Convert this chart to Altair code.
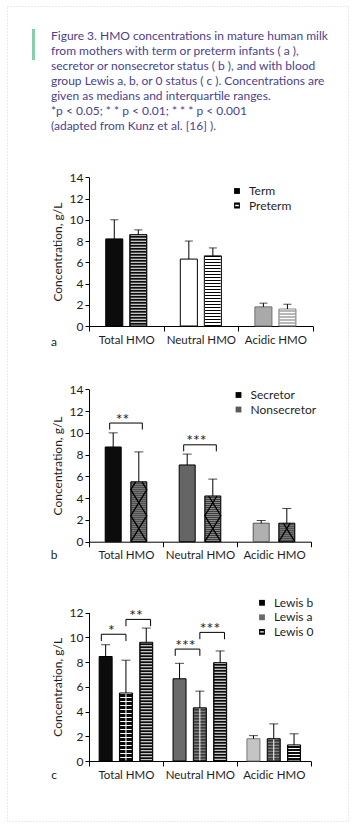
import altair as alt
import pandas as pd

FONT = "Lato"
INK = "#1e1e1e"
CAPTION_COLOR = "#4a4290"
W, H = 356, 835
LEFT = 89          # x of the plot areas' left edge
CAP_H = 170        # height of the caption block

# ---------------- text / data ----------------
caption_lines = [
    "Figure 3. HMO concentrations in mature human milk",
    "from mothers with term or preterm infants ( a ),",
    "secretor or nonsecretor status ( b ), and with blood",
    "group Lewis a, b, or 0 status ( c ). Concentrations are",
    "given as medians and interquartile ranges.",
    "*p < 0.05; * * p < 0.01; * * * p < 0.001",
    "(adapted from Kunz et al. [16] ).",
]
categories = ["Total HMO", "Neutral HMO", "Acidic HMO"]
panel_letters = ["a", "b", "c"]
y_title = "Concentration, g/L"

a_groups = ["Term", "Preterm"]
a_median = {"Term": [8.2, 6.3, 1.8], "Preterm": [8.6, 6.6, 1.6]}
a_q3 = {"Term": [10.0, 8.0, 2.15], "Preterm": [9.05, 7.35, 2.05]}

b_groups = ["Secretor", "Nonsecretor"]
b_median = {"Secretor": [8.7, 7.05, 1.7], "Nonsecretor": [5.5, 4.2, 1.7]}
b_q3 = {"Secretor": [10.0, 8.05, 1.95], "Nonsecretor": [8.25, 5.75, 3.05]}

c_groups = ["Lewis b", "Lewis a", "Lewis 0"]
c_median = {"Lewis b": [8.45, 6.65, 1.8], "Lewis a": [5.5, 4.3, 1.8], "Lewis 0": [9.6, 7.95, 1.3]}
c_q3 = {"Lewis b": [9.4, 7.9, 2.05], "Lewis a": [8.15, 5.65, 3.0], "Lewis 0": [10.75, 8.9, 2.2]}

# significance brackets: category, left group, right group, bracket top, label
a_sig = []
b_sig = [("Total HMO", "Secretor", "Nonsecretor", 10.9, "**"),
         ("Neutral HMO", "Secretor", "Nonsecretor", 8.9, "***")]
c_sig = [("Total HMO", "Lewis b", "Lewis a", 10.25, "*"),
         ("Total HMO", "Lewis a", "Lewis 0", 11.45, "**"),
         ("Neutral HMO", "Lewis b", "Lewis a", 9.05, "***"),
         ("Neutral HMO", "Lewis a", "Lewis 0", 10.4, "***")]

# ---------------- styles ----------------
STRIPED = "M-1,-1H1V1H-1Z M-0.62,-0.22V0.22H0.62V-0.22Z"
a_fill = {"Term": ["#0c0c0c", "#ffffff", "#a9a9a9"], "Preterm": ["#0c0c0c", "#ffffff", "#b8b8b8"]}
a_stroke = {"Term": ["#000000", "#000000", "#707070"], "Preterm": ["#000000", "#000000", "#8a8a8a"]}
a_stripes = {"Preterm": [("#ffffff", (1, 2), 1.0), ("#000000", (1, 2), 1.0), ("#ffffff", (1, 2), 1.0)]}
a_vline = {}
a_cross = []
a_leg_fill = ["#000000", "#000000"]
a_leg_shape = ["square", STRIPED]

b_fill = {"Secretor": ["#0c0c0c", "#656565", "#b0b0b0"], "Nonsecretor": ["#3e3e3e", "#3e3e3e", "#3e3e3e"]}
b_stroke = {"Secretor": ["#000000", "#000000", "#555555"], "Nonsecretor": ["#000000", "#000000", "#000000"]}
b_stripes = {"Nonsecretor": [("#ffffff", (1, 1), 0.38)] * 3}
b_vline = {}
b_cross = ["Nonsecretor"]          # groups drawn with a diagonal lattice
b_leg_fill = ["#000000", "#5a5a5a"]
b_leg_shape = ["square", "square"]

c_fill = {"Lewis b": ["#0c0c0c", "#6a6a6a", "#c4c4c4"], "Lewis a": ["#0c0c0c", "#3a3a3a", "#3a3a3a"],
          "Lewis 0": ["#0c0c0c", "#0c0c0c", "#0c0c0c"]}
c_stroke = {"Lewis b": ["#000000", "#000000", "#777777"], "Lewis a": ["#000000", "#000000", "#000000"],
            "Lewis 0": ["#000000", "#000000", "#000000"]}
c_stripes = {"Lewis a": [("#ffffff", (1, 3), 1.0), ("#ffffff", (1, 2), 0.45), ("#ffffff", (1, 2), 0.45)],
             "Lewis 0": [("#ffffff", (1, 2), 1.0)] * 3}
c_vline = {"Lewis a": [1, 1, 1]}
c_cross = []
c_leg_fill = ["#000000", "#6a6a6a", "#000000"]
c_leg_shape = ["square", "square", STRIPED]

# layout per panel (relative to each panel's own group)
spec_a = dict(w=223.7, h=156.0, ytop=7.3, ymax=14, pin=0.29, pout=0.697, cap=8,
              lx=142, ly=15, letter_y=171.7)
spec_b = dict(w=222.0, h=215.7, ytop=63.3, ymax=14, pin=0.375, pout=0.633, cap=9,
              lx=143.5, ly=63, letter_y=228.5)
spec_c = dict(w=221.7, h=219.0, ytop=70.6, ymax=12, pin=0.36, pout=0.5, cap=9,
              lx=167, ly=54.8, letter_y=232.6)


def build_panel(letter, groups, median, q3, fill, stroke, stripes, vline, cross, sig,
                leg_fill, leg_shape, sp):
    n = len(groups)
    band = sp["w"] / len(categories)
    step = band / (n - sp["pin"] + 2 * sp["pout"])
    barw = step * (1 - sp["pin"])
    px_per_unit = (sp["h"] - sp["ytop"]) / sp["ymax"]

    rows = []
    for g in groups:
        for i, c in enumerate(categories):
            rows.append(dict(cat=c, grp=g, med=median[g][i], q3=q3[g][i], base=0.0,
                             fill=fill[g][i], stroke=stroke[g][i]))
    df = pd.DataFrame(rows)

    xscale = alt.Scale(domain=categories, paddingInner=0, paddingOuter=0)
    yscale = alt.Scale(domain=[0, sp["ymax"]], range=[sp["h"], sp["ytop"]], nice=False, zero=False)
    xo = alt.XOffset("grp:N", sort=groups,
                     scale=alt.Scale(domain=groups, paddingInner=sp["pin"], paddingOuter=sp["pout"]))

    xaxis = alt.Axis(orient="bottom", tickBand="extent", tickSize=5,
                     labelPadding=3, labelAngle=0, labelFont=FONT, labelFontSize=11.5, labelColor=INK,
                     domainColor="#000", tickColor="#000", grid=False, title=None)
    yaxis = alt.Axis(orient="left", values=list(range(0, sp["ymax"] + 1, 2)),
                     tickSize=4, labelPadding=2, labelFont=FONT, labelFontSize=12, labelColor=INK,
                     domainColor="#000", tickColor="#000", grid=False, title=y_title,
                     titleFont=FONT, titleFontSize=12, titleFontWeight="normal", titleColor=INK,
                     titlePadding=5)

    def X():
        return alt.X("cat:N", sort=categories, scale=xscale, axis=xaxis, title=None)

    def Y(field):
        return alt.Y(f"{field}:Q", scale=yscale, axis=yaxis, title=y_title)

    layers = []
    layers.append(alt.Chart(df).mark_bar(strokeWidth=0).encode(
        x=X(), xOffset=xo, y=Y("med"), y2="base:Q",
        fill=alt.Fill("fill:N", scale=None)))

    # stripe textures
    srows = []
    for g, lst in stripes.items():
        for i, (col, dash, op) in enumerate(lst):
            srows.append(dict(cat=categories[i], grp=g, med=median[g][i], base=0.0,
                              col=col, dash=f"{dash[0]},{dash[1]}", op=op))
    if srows:
        sdf = pd.DataFrame(srows)
        for (col, dash, op), sub in sdf.groupby(["col", "dash", "op"]):
            d = [float(v) for v in dash.split(",")]
            layers.append(alt.Chart(sub).mark_rule(color=col, strokeDash=d, opacity=op,
                                                   strokeWidth=barw - 1.5).encode(
                x=X(), xOffset=xo, y=Y("med"), y2="base:Q"))
    vrows = []
    for g, lst in vline.items():
        for i, on in enumerate(lst):
            if on:
                vrows.append(dict(cat=categories[i], grp=g, med=median[g][i], base=0.0))
    if vrows:
        layers.append(alt.Chart(pd.DataFrame(vrows)).mark_rule(color="#ffffff", strokeWidth=1).encode(
            x=X(), xOffset=xo, y=Y("med"), y2="base:Q"))

    # diagonal lattice texture (zig-zag lines bouncing between the bar edges)
    crows = []
    for g in cross:
        gi = groups.index(g)
        left = (step * (sp["pout"] + gi)) / band
        right = left + barw / band
        run = 26.0 / px_per_unit          # vertical run of one diagonal
        for i, c in enumerate(categories):
            top = median[g][i]
            for lid, start in enumerate([0, 1]):
                pts, yv, side = [], 0.0, start
                while True:
                    pts.append((left if side == 0 else right, yv))
                    if yv + run >= top:
                        frac = (top - yv) / run
                        x0 = left if side == 0 else right
                        x1 = right if side == 0 else left
                        pts.append((x0 + (x1 - x0) * frac, top))
                        break
                    yv += run
                    side = 1 - side
                for k, (xf, yy) in enumerate(pts):
                    crows.append(dict(cat=c, xf=xf, yy=yy, lid=f"{g}-{c}-{lid}", k=k))
    if crows:
        layers.append(alt.Chart(pd.DataFrame(crows)).mark_line(color="#000", strokeWidth=1.3).encode(
            x=X(), xOffset=alt.XOffset("xf:Q", scale=alt.Scale(domain=[0, 1], nice=False, zero=False)),
            y=Y("yy"), detail="lid:N", order="k:Q"))

    # outlines
    layers.append(alt.Chart(df).mark_bar(fillOpacity=0, strokeWidth=1).encode(
        x=X(), xOffset=xo, y=Y("med"), y2="base:Q",
        stroke=alt.Stroke("stroke:N", scale=None)))

    # error bars (upper quartile)
    layers.append(alt.Chart(df).mark_rule(color="#000", strokeWidth=1).encode(
        x=X(), xOffset=xo, y=Y("med"), y2="q3:Q"))
    layers.append(alt.Chart(df).mark_tick(color="#000", thickness=1, size=sp["cap"]).encode(
        x=X(), xOffset=xo, y=Y("q3")))

    # significance brackets
    if sig:
        brows, trows = [], []
        for k, (c, g1, g2, top, lab) in enumerate(sig):
            drop = 0.6 if n == 2 else 0.55
            for j, (g, yv) in enumerate([(g1, top - drop), (g1, top), (g2, top), (g2, top - drop)]):
                brows.append(dict(bid=k, k=j, cat=c, grp=g, by=yv))
            trows.append(dict(cat=c, grp=g1, top=top, lab=lab))
        layers.append(alt.Chart(pd.DataFrame(brows)).mark_line(color="#000", strokeWidth=1).encode(
            x=X(), xOffset=xo, y=Y("by"), detail="bid:N", order="k:Q"))
        layers.append(alt.Chart(pd.DataFrame(trows)).mark_text(
            font=FONT, fontSize=16, color=INK, baseline="alphabetic", dx=step / 2, dy=1.5).encode(
            x=X(), xOffset=xo, y=Y("top"), text="lab:N"))

    # legend
    leg = alt.Legend(orient="none", legendX=sp["lx"], legendY=sp["ly"], title=None,
                     symbolSize=34, symbolOpacity=1, symbolStrokeWidth=0,
                     labelFont=FONT, labelFontSize=12, labelColor=INK, labelOffset=6,
                     rowPadding=2.5, padding=0)
    layers.append(alt.Chart(pd.DataFrame({"grp": groups})).mark_point(filled=True, opacity=0).encode(
        color=alt.Color("grp:N", sort=groups, scale=alt.Scale(domain=groups, range=leg_fill), legend=leg),
        shape=alt.Shape("grp:N", sort=groups, scale=alt.Scale(domain=groups, range=leg_shape), legend=leg)))

    # panel letter
    layers.append(alt.Chart(pd.DataFrame({"t": [letter]})).mark_text(
        font=FONT, fontSize=12, color=INK, align="center", baseline="middle").encode(
        x=alt.value(54 - LEFT), y=alt.value(sp["letter_y"]), text="t:N"))

    return alt.layer(*layers).properties(width=sp["w"], height=sp["h"]).resolve_scale(
        xOffset="independent")


pa = build_panel(panel_letters[0], a_groups, a_median, a_q3, a_fill, a_stroke, a_stripes, a_vline,
                 a_cross, a_sig, a_leg_fill, a_leg_shape, spec_a)
pb = build_panel(panel_letters[1], b_groups, b_median, b_q3, b_fill, b_stroke, b_stripes, b_vline,
                 b_cross, b_sig, b_leg_fill, b_leg_shape, spec_b)
pc = build_panel(panel_letters[2], c_groups, c_median, c_q3, c_fill, c_stroke, c_stripes, c_vline,
                 c_cross, c_sig, c_leg_fill, c_leg_shape, spec_c)

one = pd.DataFrame({"k": [0]})
# invisible page-sized frame so that the whole figure maps onto the 356x835 page
frame = alt.Chart(one).mark_rect(fill="#ffffff", fillOpacity=0, strokeWidth=0).encode(
    x=alt.value(-LEFT), x2=alt.value(W - LEFT), y=alt.value(0), y2=alt.value(H))
border = alt.Chart(one).mark_rect(fill="transparent", stroke="#cddccd", strokeDash=[1, 2],
                                  strokeWidth=1).encode(
    x=alt.value(7.5 - LEFT), x2=alt.value(348.5 - LEFT), y=alt.value(6.5), y2=alt.value(821.5))
green = alt.Chart(one).mark_rect(fill="#86cfaa").encode(
    x=alt.value(32 - LEFT), x2=alt.value(35 - LEFT), y=alt.value(29), y2=alt.value(60))
caption = alt.Chart(one).mark_text(
    font=FONT, fontSize=12, color=CAPTION_COLOR, align="left", baseline="top",
    lineBreak="\n", lineHeight=15).encode(
    x=alt.value(51 - LEFT), y=alt.value(31), text=alt.value("\n".join(caption_lines)))

head = alt.layer(frame, border, green, caption).properties(width=spec_a["w"], height=CAP_H)

chart = alt.vconcat(head, pa, pb, pc, spacing=0, bounds="flush").properties(
    padding=0, background="#ffffff"
).resolve_scale(
    x="independent", y="independent", xOffset="independent", color="independent", shape="independent"
).resolve_axis(x="independent", y="independent").resolve_legend(
    color="independent", shape="independent"
).configure_view(stroke=None)

chart.save("out.html", embed_options={"renderer": "svg", "actions": False})
